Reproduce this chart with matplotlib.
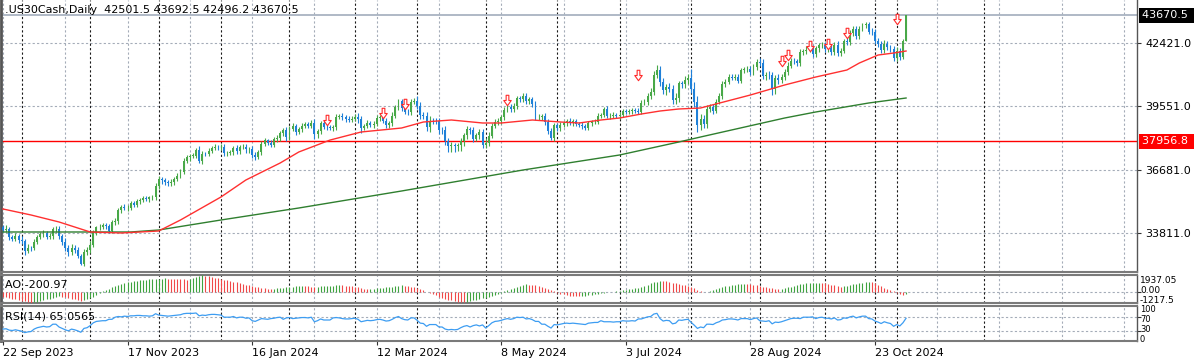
import matplotlib
matplotlib.use("Agg")
import matplotlib.pyplot as plt
import matplotlib.transforms as mtransforms
from matplotlib.path import Path
import numpy as np
import pandas as pd

# ---- .US30Cash daily bars, 22 Sep 2023 .. 6 Nov 2024 ----
holidays = ["2023-12-25", "2024-01-01", "2024-03-29"]

closes = [
    33963, 34007, 33618, 33551, 33667, 33508,
    33433, 33002, 33130, 33120, 33408, 33605, 33740, 33804, 33631, 33670, 33985, 33998, 33665, 33415, 33127,
    32937, 33141, 33036, 32785, 32418, 32929, 33053,
    33275, 33839, 34061, 34096, 34153, 34112, 33892, 34283, 34337, 34828, 34991, 34945, 34947, 35151, 35088,
    35273, 35300, 35390, 35333, 35417, 35430, 35951,
    36246, 36204, 36125, 36054, 36118, 36248, 36405, 36578, 37090, 37248, 37306, 37306, 37558, 37083, 37405,
    37386, 37545, 37657, 37710, 37690,
    37715, 37430, 37440, 37466, 37683, 37525, 37696, 37711, 37593, 37600, 37361, 37267, 37469, 37864, 38001,
    37906, 37806, 38050, 38109, 38333, 38467, 38150,
    38520, 38654, 38380, 38521, 38677, 38726, 38672, 38797, 38273, 38424, 38773, 38628, 38600, 38564, 38612,
    39069, 39131, 39069, 38972, 38949, 38996,
    39087, 38990, 38585, 38661, 38791, 38723, 38770, 39006, 39044, 38906, 38715, 38790, 39111, 39512, 39781,
    39476, 39314, 39282, 39760, 39807,
    39567, 39170, 39127, 38597, 38904, 38892, 38884, 38462, 38459, 37983, 37735, 37799, 37753, 37775, 37986,
    38240, 38504, 38461, 38086, 38240, 38386, 37816,
    37903, 38226, 38676, 38852, 38884, 39056, 39388, 39513, 39432, 39558, 39908, 39869, 40004, 39807, 39873,
    39671, 39065, 39070, 39100, 38853, 38442, 38112, 38686,
    38571, 38712, 38807, 38886, 38799, 38868, 38747, 38712, 38647, 38589, 38778, 38835, 38850, 39134, 39150,
    39411, 39112, 39127, 39164, 39119,
    39170, 39332, 39308, 39320, 39376, 39345, 39292, 39721, 39754, 40001, 40212, 40954, 41198, 40665, 40288,
    40415, 40358, 39854, 39935, 40590, 40540, 40743, 40843,
    40348, 39737, 38703, 38997, 38763, 39446, 39498, 39357, 39766, 40008, 40563, 40660, 40897, 40835, 40890,
    40712, 41175, 41240, 41250, 41091, 41335, 41563,
    41500, 40937, 40975, 40974, 40345, 40830, 40737, 40861, 41097, 41394, 41622, 41606, 41504, 42025, 42063,
    42125, 42208, 41915, 42175, 42313, 42330,
    42156, 42197, 42012, 42353, 41954, 42080, 42512, 42454, 42864, 43065, 42740, 43077, 43239, 43276, 42931,
    42925, 42514, 42374, 42114, 42387, 42233, 42142, 41763,
    42052, 41794, 42501.5, 43670.5,
]
first_open = 34070.0

# wick length above / below the body, in points
wick_hi = [
    110, 150, 90, 120, 130, 100, 140, 120, 160, 90, 120, 110, 100, 150, 90, 130, 110, 140, 120, 100,
    150, 120, 160, 110, 130, 90, 140, 110, 150, 120, 80, 130, 100, 90, 120, 110, 140, 100, 90, 130,
    110, 90, 120, 80, 100, 90, 110, 70, 120, 100, 140, 90, 110, 100, 120, 80, 110, 120, 130, 100,
    90, 110, 120, 180, 110, 90, 100, 80, 110, 90, 120, 130, 100, 110, 90, 120, 100, 140, 110, 90,
    160, 130, 110, 120, 100, 90, 110, 120, 130, 100, 110, 140, 120, 150, 110, 100, 120, 110, 130, 140,
    200, 110, 120, 130, 100, 120, 110, 150, 90, 130, 110, 120, 100, 110, 160, 120, 110, 130, 100, 120,
    140, 110, 120, 130, 100, 160, 120, 110, 100, 120, 130, 110, 140, 200, 180, 130, 150, 220, 120, 130,
    150, 160, 180, 140, 120, 110, 130, 140, 120, 150, 110, 160, 120, 140, 130, 200, 140, 130, 120, 150,
    120, 110, 140, 120, 130, 110, 120, 140, 130, 110, 120, 100, 150, 120, 140, 130, 120, 110, 130, 120,
    100, 110, 120, 90, 100, 110, 120, 100, 90, 110, 120, 100, 110, 120, 150, 100, 110, 90, 120, 110,
    100, 90, 110, 100, 120, 130, 150, 140, 160, 200, 230, 180, 150, 160, 170, 140, 200, 120, 130, 160,
    180, 420, 300, 260, 220, 180, 150, 160, 140, 130, 150, 120, 110, 130, 100, 120, 110, 130, 100, 120,
    110, 130, 120, 160, 180, 150, 160, 140, 150, 170, 160, 140, 150, 120, 130, 110, 120, 100, 150, 120,
    110, 130, 100, 120, 140, 110, 150, 120, 140, 120, 110, 130, 160, 120, 110, 130, 100, 120, 110, 160,
    150, 130, 120, 170, 140, 120, 160, 200, 150, 120, 22,
]
wick_lo = [
    120, 100, 140, 110, 90, 150, 130, 180, 110, 140, 100, 120, 90, 130, 110, 100, 140, 120, 150, 170,
    130, 160, 110, 140, 120, 60, 100, 120, 150, 100, 130, 110, 90, 120, 100, 80, 130, 110, 100, 90,
    120, 100, 90, 110, 130, 100, 90, 120, 100, 110, 130, 160, 120, 110, 100, 120, 90, 110, 100, 120,
    160, 110, 100, 120, 130, 110, 100, 120, 90, 110, 130, 140, 120, 100, 110, 130, 120, 100, 160, 150,
    170, 140, 120, 110, 100, 130, 120, 110, 100, 120, 110, 150, 130, 110, 120, 100, 130, 110, 120, 100,
    220, 160, 110, 120, 130, 100, 120, 150, 110, 120, 130, 100, 110, 120, 180, 230, 130, 110, 120, 140,
    130, 110, 120, 150, 130, 110, 100, 120, 140, 120, 110, 130, 120, 140, 180, 160, 150, 200, 130, 140,
    150, 160, 200, 250, 240, 260, 250, 230, 220, 180, 150, 140, 130, 160, 150, 170, 140, 130, 120, 130,
    120, 140, 110, 130, 120, 110, 140, 120, 130, 150, 130, 120, 140, 160, 170, 130, 110, 150, 160, 140,
    120, 130, 110, 120, 100, 110, 120, 130, 110, 120, 100, 110, 120, 100, 110, 120, 100, 110, 130, 120,
    120, 110, 130, 120, 100, 110, 120, 150, 140, 130, 120, 180, 200, 220, 160, 180, 210, 170, 150, 140,
    160, 200, 220, 300, 230, 210, 180, 170, 150, 130, 120, 110, 130, 120, 110, 100, 120, 110, 130, 120,
    110, 120, 130, 140, 160, 180, 200, 300, 220, 160, 140, 130, 120, 110, 130, 120, 110, 130, 120, 110,
    130, 120, 140, 110, 130, 150, 120, 140, 130, 120, 130, 110, 120, 130, 140, 120, 110, 130, 120, 140,
    160, 150, 140, 160, 150, 140, 170, 150, 160, 120, 5,
]

# moving averages (bar index, price)
ma_fast_bars = [0, 9, 18, 28, 38, 50, 57, 70, 78, 89, 95, 105, 115, 128, 135, 144, 154, 160, 170,
                179, 185, 192, 198, 205, 211, 217, 224, 240, 251, 261, 271, 275, 281, 286, 290]
ma_fast = [34895, 34623, 34306, 33852, 33807, 33897, 34396, 35439, 36210, 36980, 37480, 38020, 38386,
           38567, 38839, 38930, 38794, 38794, 38930, 38839, 38794, 38930, 39020, 39202, 39338, 39429,
           39474, 40063, 40517, 40879, 41197, 41514, 41876, 41967, 42058]
ma_slow_bars = [0, 41, 50, 70, 95, 128, 167, 198, 217, 224, 251, 261, 278, 290]
ma_slow = [33852, 33852, 33942, 34396, 34940, 35711, 36663, 37343, 37932, 38159, 39020, 39293, 39701, 39927]

# red down-arrow signals
arrow_bars = [104, 122, 129, 162, 204, 250, 252, 259, 265, 271, 287]
arrow_prices = [38930, 39247, 39655, 39837, 40970, 41605, 41877, 42285, 42376, 42875, 43510]

# Awesome Oscillator histogram
ao = [
    -500, -560, -640, -720, -800, -880, -960, -1040, -1150, -1217,
    -1120, -1060, -980, -900, -820, -740, -650, -560, -480,
    -500, -560, -640, -720, -800, -880, -960,
    -900, -820, -700,
    -520, -320, -120, 80,
    250, 400, 550, 700, 820, 930, 1020, 1100,
    1170, 1230, 1290, 1340, 1380, 1420, 1450, 1480, 1500, 1520, 1540, 1560,
    1540, 1520, 1500, 1480, 1460, 1440, 1420,
    1500, 1600, 1700, 1800, 1937,
    1850, 1790, 1720, 1650, 1580, 1500, 1420, 1340, 1260, 1180, 1100, 1020, 940, 860, 780, 700, 620,
    560, 500, 450, 400, 360,
    380, 420, 460, 500, 540, 580, 620, 650, 680, 700, 680, 650, 620, 600, 620, 650, 680, 700, 720,
    740, 760, 780, 760, 740, 720, 700,
    640, 560, 480, 400, 330,
    360, 400, 440, 480, 520, 560, 600, 640, 680, 720, 760,
    720, 680, 620, 540, 440,
    320, 200, 60, -80, -220, -360, -500, -620, -740, -840, -930, -1000, -1060, -1100, -1130,
    -1080, -1000, -920, -840, -760, -700,
    -620, -520, -400, -280, -160, -40, 80, 200, 320, 440, 560, 680, 780, 880,
    860, 820, 760, 680,
    580, 470, 350, 220, 90, -40, -150, -250, -320, -380, -420, -440, -450,
    -420, -380, -330, -280, -230, -180, -130, -80, -30, 20, 70, 110,
    160, 210, 260, 310, 360, 420, 500, 600, 720, 850, 980, 1100, 1200, 1300,
    1280, 1230, 1160, 1080, 1000, 920, 840, 760, 680, 580, 450, 300, 140, -20,
    40, 120, 220, 330, 450, 560, 660, 740, 800, 850, 890, 920, 940,
    920, 880, 830, 770, 700, 630, 560, 500, 440, 390, 350,
    400, 460, 530, 610, 700, 790, 880, 960, 1020,
    1040, 1060, 1070, 1080,
    1040, 980, 910, 840, 770, 700, 640,
    680, 740, 800, 870, 940, 1010, 1070, 1120, 1160,
    1100, 980, 840, 680, 520, 360, 220, 100,
    -80, -200, -260, -200.97,
]

# RSI(14)
rsi = [
    34, 35, 31, 30, 32, 30, 28, 24, 26, 27, 34, 38, 40, 42, 40, 41, 48, 48, 40, 36,
    32, 29, 34, 32, 29, 25, 36, 38, 44, 52, 56, 57, 58, 58, 62, 62,
    68, 70, 69, 71, 70, 72, 72, 73, 73, 72, 72, 71, 72, 78,
    74, 73, 72, 71, 72, 73, 74, 75, 78, 79, 79, 79, 80, 72,
    74, 73, 75, 76, 76, 75,
    74, 68, 68, 68, 70, 66, 68, 68, 65, 66, 58, 56,
    60, 64, 63, 62, 64, 65, 67, 68, 62,
    66, 67, 64, 65, 66, 67, 67, 66, 68, 55,
    58, 63, 60, 60, 60, 66, 67, 66, 64, 63, 63, 64,
    65, 62, 55, 57, 59, 58, 59,
    61, 62, 60, 57, 58, 62, 67, 70, 64,
    61, 60, 66, 66, 59,
    51, 50, 42, 47, 47, 47,
    40, 40, 34, 32, 33, 32, 33, 38, 42, 44, 40,
    44, 46, 43, 46, 37, 44,
    52, 56, 57, 59, 62, 64, 62, 64, 68, 67, 68, 63, 64, 61, 56,
    56, 48, 48, 42, 37, 47, 46,
    48, 50, 51, 50, 51, 50, 49, 48, 47, 51, 52, 53, 53, 58, 55,
    55, 55, 54, 55, 55, 58, 57, 57, 58, 57,
    63, 63, 66, 69, 70, 77, 79,
    64, 57, 59, 58, 49, 51, 60, 59, 61, 62,
    53, 45, 36, 40,
    38, 48, 48, 47, 52, 55, 60, 61, 63, 63, 62,
    60, 64, 64, 64, 61, 64, 66, 58, 57, 56,
    58, 49, 54, 53,
    55, 58, 61, 64, 65, 65, 64,
    68, 68, 68, 69, 64, 67, 68, 65, 65, 63, 66, 60, 61, 66, 65, 69, 71, 66, 69, 71, 71, 64, 63, 57,
    54, 50, 55, 52, 50, 42, 47, 43,
    52, 65.0565,
]

price_ticks = [42421.0, 39551.0, 36681.0, 33811.0]
last_price = 43670.5
level_price = 37956.8
extra_vlines = [280, 315]
title = ".US30Cash,Daily  42501.5 43692.5 42496.2 43670.5"

# ---- colours ----
bull = "#48a848"
bear = "#1f80d8"
grid_gray = "#a4acb8"
sep_black = "#1a1a1a"
frame = "#7a7a7a"

# ---- build bars ----
dates = pd.bdate_range("2023-09-22", "2024-11-06")
dates = dates[~dates.isin(pd.to_datetime(holidays))]
n = len(closes)
x = np.arange(n)
c = np.array(closes, dtype=float)
o = np.concatenate([[first_open], c[:-1]])
h = np.maximum(o, c) + np.array(wick_hi)
l = np.minimum(o, c) - np.array(wick_lo)

W, H = 1200, 364


def box(x0, y0, x1, y1):
    return [x0 / W, 1 - y1 / H, (x1 - x0) / W, (y1 - y0) / H]


fig = plt.figure(figsize=(12, 3.64), dpi=100)
fig.patch.set_facecolor("white")
ax = fig.add_axes(box(1, 0, 1137, 272))
ax_ao = fig.add_axes(box(1, 275, 1137, 303), sharex=ax)
ax_rsi = fig.add_axes(box(1, 306, 1137, 341), sharex=ax)

dot = (0, (2, 2))
month_first = [i for i in range(1, n) if dates[i].month != dates[i - 1].month]
for a in (ax, ax_ao, ax_rsi):
    for b in range(0, 365, 20):
        a.axvline(b, color=grid_gray, lw=0.8, ls=dot, zorder=0)
    for b in month_first + extra_vlines:
        a.axvline(b, color=sep_black, lw=0.8, ls=dot, zorder=0.5)
    for s in a.spines.values():
        s.set_color(frame)
        s.set_linewidth(1.5)
    a.spines["left"].set_color("#555555")
    a.spines["left"].set_linewidth(2)
    a.spines["right"].set_color("#555555")
    a.spines["right"].set_linewidth(1)
    a.set_xlim(-0.64, 364.16)
ax.spines["top"].set_visible(False)

# ---- main price panel ----
for p in price_ticks:
    ax.axhline(p, color=grid_gray, lw=0.8, ls=dot, zorder=0)
ax.axhline(last_price, color="#a9b3c1", lw=1.3, zorder=1)
ax.axhline(level_price, color="#ff0000", lw=1.0, zorder=1)

colors = np.where(c >= o, bull, bear)
ax.vlines(x, l, h, colors=colors, lw=0.8, zorder=3)
ax.bar(x, np.maximum(np.abs(c - o), 15), bottom=np.minimum(o, c), width=0.62,
       color=colors, linewidth=0, zorder=3)

ax.plot(ma_slow_bars, ma_slow, color="#2f7f2f", lw=1.0, zorder=4)
ax.plot(ma_fast_bars, ma_fast, color="#ff3030", lw=1.0, zorder=4)

# hollow down arrow marker
arrow_path = Path([(-0.13, 0.5), (0.13, 0.5), (0.13, 0.0), (0.36, 0.0), (0.0, -0.5),
                   (-0.36, 0.0), (-0.13, 0.0), (-0.13, 0.5)],
                  [Path.MOVETO] + [Path.LINETO] * 6 + [Path.CLOSEPOLY])
ax.plot(arrow_bars, arrow_prices, ls="none", marker=arrow_path, markersize=7.5,
        markerfacecolor="white", markeredgecolor="#ff2a2a", markeredgewidth=0.8, zorder=5)

ax.set_ylim(32038, 44371)
ax.yaxis.tick_right()
ax.set_yticks(price_ticks)
ax.set_yticklabels([f"{p:.1f}" for p in price_ticks])
ax.tick_params(axis="y", length=3, pad=3, labelsize=8, colors="#333333", labelcolor="black")
ax.tick_params(axis="x", length=0, labelbottom=False)

ax.text(0.0035, 1 - 10 / 272, title, transform=ax.transAxes, fontsize=8, va="center", ha="left")

tr = mtransforms.blended_transform_factory(ax.transAxes, ax.transData)
ax.text(1.0 + 5 / 1136, last_price, "43670.5 ", transform=tr, color="white", fontsize=8,
        va="center", ha="left", bbox=dict(boxstyle="square,pad=0.25", fc="black", ec="none"), clip_on=False)
ax.text(1.0 + 5 / 1136, level_price, "37956.8 ", transform=tr, color="white", fontsize=8,
        va="center", ha="left", bbox=dict(boxstyle="square,pad=0.25", fc="#ff0000", ec="none"), clip_on=False)

# ---- AO panel ----
ao_v = np.array(ao, dtype=float)
ao_col = ["#f04848"] + ["#3fa33f" if ao_v[i] > ao_v[i - 1] else "#f04848" for i in range(1, n)]
ax_ao.axhline(0, color=grid_gray, lw=0.8, ls=dot, zorder=0)
ax_ao.vlines(x, 0, ao_v, colors=ao_col, lw=0.8, zorder=3)
ax_ao.set_ylim(-1217.5, 1937.05)
ax_ao.yaxis.tick_right()
ax_ao.set_yticks([0])
ax_ao.tick_params(axis="y", length=3, labelright=False, colors="#333333")
ax_ao.tick_params(axis="x", length=0, labelbottom=False)
ax_ao.text(0.0035, 0.64, "AO -200.97", transform=ax_ao.transAxes, fontsize=8, va="center")

# ---- RSI panel ----
for lv in (70, 30):
    ax_rsi.axhline(lv, color=grid_gray, lw=0.8, ls=dot, zorder=0)
ax_rsi.plot(x, rsi, color="#3d9df2", lw=0.9, zorder=3)
ax_rsi.set_ylim(0, 100)
ax_rsi.yaxis.tick_right()
ax_rsi.set_yticks([30, 70])
ax_rsi.tick_params(axis="y", length=3, labelright=False, colors="#333333")
ax_rsi.text(0.0035, 0.69, "RSI(14) 65.0565", transform=ax_rsi.transAxes, fontsize=8, va="center")

tick_bars = list(range(0, n, 40))
ax_rsi.set_xticks(tick_bars)
ax_rsi.set_xticklabels([f"{dates[i].day} {dates[i]:%b %Y}" for i in tick_bars], ha="left")
ax_rsi.tick_params(axis="x", length=3, pad=2, labelsize=8, colors="#333333", labelcolor="black")

# right-hand scale texts of the sub windows (stacked small so they do not collide)
for txt, ypx, fs in [("1937.05", 280.5, 6.5), ("0.00", 290.5, 6.5), ("-1217.5", 300.5, 6.5),
                     ("100", 310, 6), ("70", 320, 6), ("30", 330, 6), ("0", 340, 6)]:
    fig.text(1140 / W, 1 - ypx / H, txt, fontsize=fs, va="center", ha="left")

fig.savefig("out.png", dpi=100, facecolor="white")
